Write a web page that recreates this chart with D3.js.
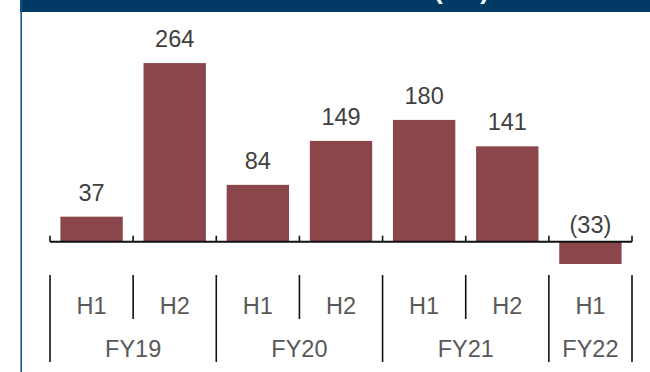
<!DOCTYPE html>
<html>
<head>
<meta charset="utf-8">
<script src="https://cdn.jsdelivr.net/npm/d3@7"></script>
<style>
  html, body { margin: 0; padding: 0; background: #ffffff; }
  svg { display: block; font-family: "Liberation Sans", Arial, sans-serif; }
</style>
</head>
<body>
<svg id="chart" width="650" height="372"></svg>
<script>
// Half-year results
const periods = ["FY19 H1", "FY19 H2", "FY20 H1", "FY20 H2", "FY21 H1", "FY21 H2", "FY22 H1"];
const halves  = ["H1", "H2", "H1", "H2", "H1", "H2", "H1"];
const periodYears = ["FY19", "FY19", "FY20", "FY20", "FY21", "FY21", "FY22"];
const years   = ["FY19", "FY20", "FY21", "FY22"];
const values  = [37, 264, 84, 149, 180, 141, -33];
const title   = "Net income after tax (£m)";

const svg = d3.select("#chart");
const W = 650;
const FS = 23.5;

// Header band and left frame rule
svg.append("rect").attr("x", 20).attr("y", 0).attr("width", W - 20).attr("height", 12)
  .attr("fill", "#023a66");
svg.append("text").attr("x", 489).attr("y", -1.5).attr("text-anchor", "end")
  .attr("fill", "#ffffff").attr("font-weight", "bold").attr("font-size", 26)
  .text(title);
svg.append("line").attr("x1", 21.2).attr("x2", 21.2).attr("y1", 0).attr("y2", 372)
  .attr("stroke", "#1d5288").attr("stroke-width", 1.6);

// Scales
const x = d3.scaleBand().domain(periods).range([50, 632])
  .paddingInner(0.25).paddingOuter(0.125);
const step = x.step();
const y = d3.scaleLinear().domain([0, 264]).range([241.7, 63.1]);
const y0 = y(0);

// Bars
svg.append("g").selectAll("rect").data(periods).join("rect")
  .attr("x", d => x(d))
  .attr("width", x.bandwidth())
  .attr("y", (d, i) => Math.min(y(values[i]), y0))
  .attr("height", (d, i) => Math.abs(y(values[i]) - y0))
  .attr("fill", "#8b464c");

// Value labels
const fmt = v => v < 0 ? "(" + Math.abs(v) + ")" : String(v);
svg.append("g").selectAll("text").data(periods).join("text")
  .attr("x", d => x(d) + x.bandwidth() / 2)
  .attr("y", (d, i) => values[i] >= 0 ? y(values[i]) - 16 : y0 - 9)
  .attr("text-anchor", "middle")
  .attr("font-size", FS)
  .attr("fill", "#404040")
  .text((d, i) => fmt(values[i]));

// Zero axis with upward ticks at slot boundaries
const bounds = periods.map(d => x(d) - step * 0.125);
bounds.push(632);
const axis = svg.append("g").attr("stroke", "#111111").attr("fill", "none");
axis.append("line").attr("x1", 50).attr("x2", 632).attr("y1", y0).attr("y2", y0)
  .attr("stroke-width", 2);
axis.selectAll(".tick").data(bounds).join("line").attr("class", "tick")
  .attr("x1", d => d).attr("x2", d => d)
  .attr("y1", y0 - 6).attr("y2", y0)
  .attr("stroke-width", 1.6);

// Category table: half labels, year labels and separators
const cat = svg.append("g");
cat.selectAll(".half").data(periods).join("text").attr("class", "half")
  .attr("x", d => x(d) + x.bandwidth() / 2)
  .attr("y", 313.5)
  .attr("text-anchor", "middle").attr("font-size", FS).attr("fill", "#595959")
  .text((d, i) => halves[i]);

const yearSpan = yr => {
  const ps = periods.filter((p, i) => periodYears[i] === yr);
  const a = x(ps[0]) - step * 0.125;
  const b = x(ps[ps.length - 1]) - step * 0.125 + step;
  return [a, b];
};
cat.selectAll(".year").data(years).join("text").attr("class", "year")
  .attr("x", d => d3.mean(yearSpan(d)))
  .attr("y", 356.5)
  .attr("text-anchor", "middle").attr("font-size", FS).attr("fill", "#595959")
  .text(d => d);

cat.selectAll(".sep").data(bounds).join("line").attr("class", "sep")
  .attr("x1", d => d).attr("x2", d => d)
  .attr("y1", 275)
  .attr("y2", (d, i) => {
    const left = periodYears[i - 1], right = periodYears[i];
    return (left && right && left === right) ? 319 : 362;
  })
  .attr("stroke", "#111111").attr("stroke-width", 1.6);
</script>
</body>
</html>
